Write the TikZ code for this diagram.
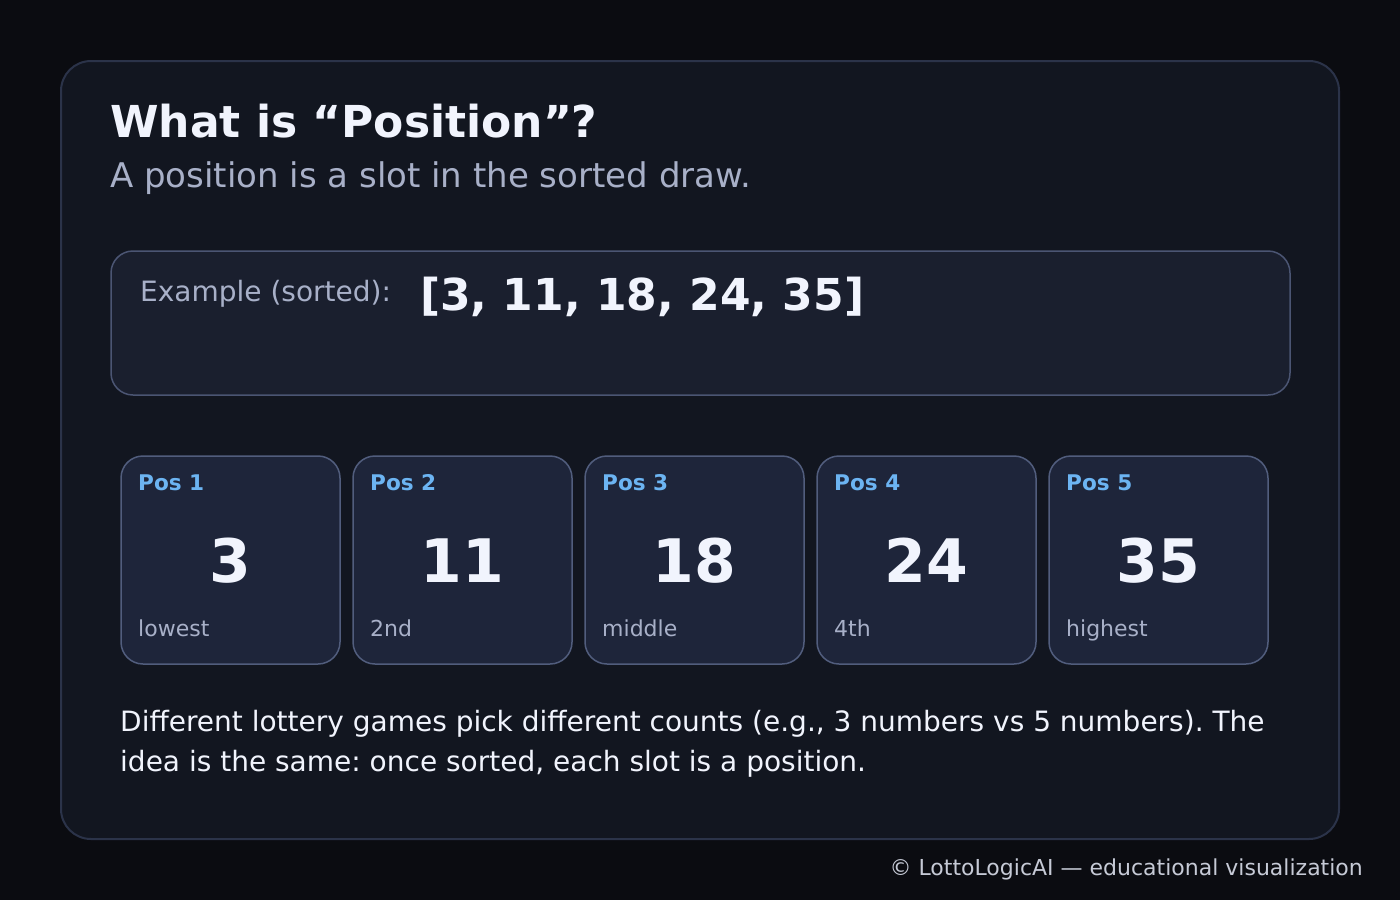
\documentclass[tikz,border=0pt]{standalone}
\usepackage{fontspec}
\setmainfont{DejaVu Sans}
\usetikzlibrary{positioning}
\frenchspacing

\definecolor{pagebg}{HTML}{0B0C11}
\definecolor{cardbg}{HTML}{121620}
\definecolor{cardline}{HTML}{2B3349}
\definecolor{examplebg}{HTML}{1A1F2E}
\definecolor{exampleline}{HTML}{4B5573}
\definecolor{posbg}{HTML}{1E253A}
\definecolor{posline}{HTML}{515D7D}
\definecolor{posblue}{HTML}{6CB4F2}
\definecolor{brightwhite}{HTML}{F1F4FD}
\definecolor{mutedgrey}{HTML}{A8B0C8}
\definecolor{footgrey}{HTML}{C6CAD6}

\begin{document}
\begin{tikzpicture}[x=1pt,y=-1pt,
    posbox/.style={draw=posline,fill=posbg,line width=1.5pt,rounded corners=22pt,
        minimum width=219pt,minimum height=208pt,inner sep=0pt},
    postag/.style={anchor=base west,inner sep=0pt,text=posblue,font=\fontsize{21.6}{26}\selectfont\bfseries},
    posnum/.style={anchor=base,inner sep=0pt,text=brightwhite,font=\fontsize{60}{72}\selectfont\bfseries},
    posnote/.style={anchor=base west,inner sep=0pt,text=mutedgrey,font=\fontsize{22}{26}\selectfont}]
                \fill[pagebg] (0,0) rectangle (1400,900);
                \useasboundingbox (0,0) rectangle (1400,900);
                \draw[cardline,fill=cardbg,line width=2pt,rounded corners=30pt] (61,61) rectangle (1339,839);
                \node[anchor=base west,inner sep=0pt,text=brightwhite,font=\fontsize{44}{52}\selectfont\bfseries] (title) at (110,137) {What is “Position”?};
                \node[anchor=base west,inner sep=0pt,text=mutedgrey,font=\fontsize{34}{40}\selectfont] (subtitle) at (110,187) {A position is a slot in the sorted draw.};
                \draw[exampleline,fill=examplebg,line width=1.5pt,rounded corners=22pt] (111,251) rectangle (1290,395);
                \node[anchor=base west,inner sep=0pt,text=mutedgrey,font=\fontsize{28}{34}\selectfont] (exlabel) at (140,301) {Example (sorted):};
                \node[anchor=base west,inner sep=0pt,text=brightwhite,font=\fontsize{44}{52}\selectfont\bfseries] (exdraw) at (420,310) {[3, 11, 18, 24, 35]};
                % the five slots
                \node[posbox] (p1) at (230.5,560) {};
                \node[posbox] (p2) at (462.5,560) {};
                \node[posbox] (p3) at (694.5,560) {};
                \node[posbox] (p4) at (926.5,560) {};
                \node[posbox] (p5) at (1158.5,560) {};
                \node[postag] (p1t) at (138,490) {Pos 1};
                \node[postag] (p2t) at (370,490) {Pos 2};
                \node[postag] (p3t) at (602,490) {Pos 3};
                \node[postag] (p4t) at (834,490) {Pos 4};
                \node[postag] (p5t) at (1066,490) {Pos 5};
                \node[posnum] (p1n) at (230.5,582) {3};
                \node[posnum] (p2n) at (462.5,582) {11};
                \node[posnum] (p3n) at (694.5,582) {18};
                \node[posnum] (p4n) at (926.5,582) {24};
                \node[posnum] (p5n) at (1158.5,582) {35};
                \node[posnote] (p1s) at (138,636) {lowest};
                \node[posnote] (p2s) at (370,636) {2nd};
                \node[posnote] (p3s) at (602,636) {middle};
                \node[posnote] (p4s) at (834,636) {4th};
                \node[posnote] (p5s) at (1066,636) {highest};
                \node[anchor=base west,inner sep=0pt,text=brightwhite,font=\fontsize{28}{40}\selectfont,align=left] (body) at (120,771) {Different lottery games pick different counts (e.g., 3 numbers vs 5 numbers). The\\idea is the same: once sorted, each slot is a position.};
                \node[anchor=base east,inner sep=0pt,text=footgrey,font=\fontsize{22}{26}\selectfont] (footer) at (1363,875) {© LottoLogicAI — educational visualization};
            \end{tikzpicture}
\end{document}
